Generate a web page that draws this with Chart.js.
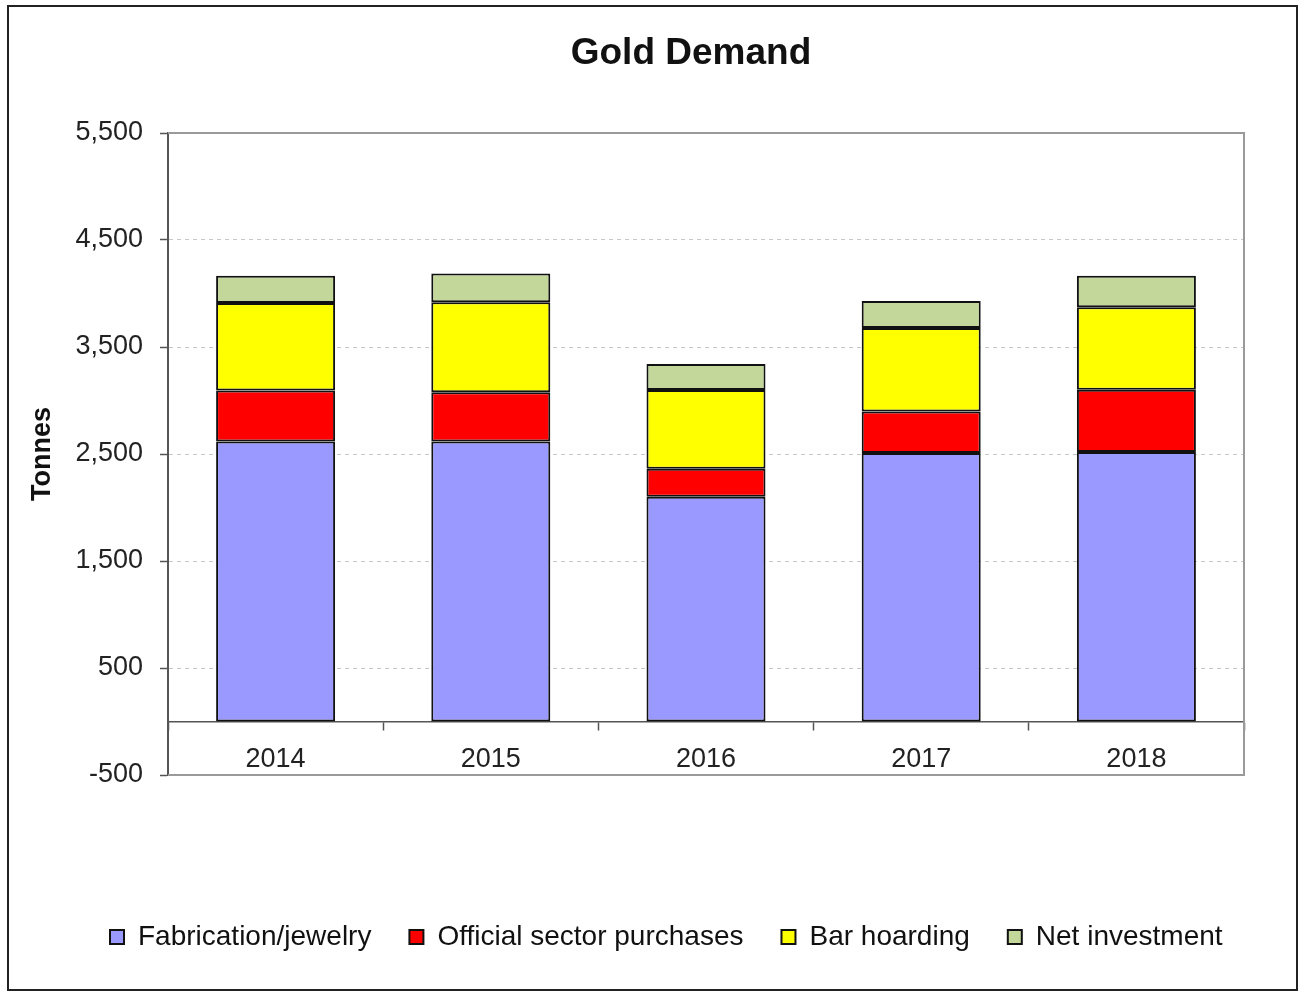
<!DOCTYPE html>
<html>
<head>
<meta charset="utf-8">
<title>Gold Demand</title>
<script src="https://cdn.jsdelivr.net/npm/chart.js@4/dist/chart.umd.min.js"></script>
<style>
  html, body { margin: 0; padding: 0; background: #fff; }
  canvas { display: block; }
</style>
</head>
<body>
<canvas id="goldChart" width="1301" height="993"></canvas>
<script>
// values (tonnes)
const years = ['2014', '2015', '2016', '2017', '2018'];
const fabrication = [2617, 2617, 2100, 2509, 2518];
const official = [477, 459, 262, 389, 583];
const barHoarding = [818, 842, 736, 780, 770];
const netInvestment = [255, 268, 243, 253, 296];

const yTicks = { min: -500, max: 5500, step: 1000 };

Chart.defaults.font.family = "'Liberation Sans', Arial, sans-serif";
Chart.defaults.color = '#111';

// white background, plot frame and outer border
const framePlugin = {
  id: 'frame',
  beforeDraw(chart) {
    const ctx = chart.ctx;
    ctx.save();
    ctx.fillStyle = '#fff';
    ctx.fillRect(0, 0, chart.width, chart.height);
    ctx.restore();
  },
  beforeDatasetsDraw(chart) {
    const { ctx, chartArea: a } = chart;
    ctx.save();
    ctx.strokeStyle = '#9a9a9a';
    ctx.lineWidth = 2;
    ctx.beginPath();
    ctx.moveTo(a.left, a.top);
    ctx.lineTo(a.right, a.top);
    ctx.lineTo(a.right, a.bottom);
    ctx.lineTo(a.left, a.bottom);
    ctx.stroke();
    ctx.restore();
  },
  afterDraw(chart) {
    const ctx = chart.ctx;
    ctx.save();
    ctx.strokeStyle = '#222';
    ctx.lineWidth = 2;
    ctx.strokeRect(8, 6, 1289, 984);
    ctx.restore();
  }
};

const seg = (label, data, color) => ({
  label,
  data,
  backgroundColor: color,
  borderColor: '#111',
  borderWidth: 2,
  borderSkipped: false
});

new Chart(document.getElementById('goldChart'), {
  type: 'bar',
  data: {
    labels: years,
    datasets: [
      seg('Fabrication/jewelry', fabrication, '#9999ff'),
      seg('Official sector purchases', official, '#ff0000'),
      seg('Bar hoarding', barHoarding, '#ffff00'),
      seg('Net investment', netInvestment, '#c4d79b')
    ]
  },
  plugins: [framePlugin],
  options: {
    responsive: false,
    devicePixelRatio: 1,
    animation: false,
    layout: { padding: { left: 72, right: -9, top: 0, bottom: 32 } },
    datasets: { bar: { categoryPercentage: 1, barPercentage: 0.553 } },
    plugins: {
      title: {
        display: true,
        text: 'Gold Demand',
        color: '#111',
        font: { size: 37, weight: 'bold' },
        padding: { top: 31.8, bottom: 56.8 }
      },
      legend: {
        position: 'bottom',
        align: 'start',
        labels: {
          boxWidth: 14,
          boxHeight: 14,
          padding: 38,
          color: '#111',
          font: { size: 28 }
        }
      },
      tooltip: { enabled: false }
    },
    scales: {
      x: {
        stacked: true,
        position: { y: 0 },
        grid: { drawOnChartArea: false, drawTicks: true, tickLength: 8, tickColor: '#555', tickWidth: 1.5 },
        border: { color: '#555', width: 1.5 },
        ticks: { color: '#222', padding: 14, font: { size: 27 } }
      },
      xPad: {
        type: 'category',
        position: 'bottom',
        grid: { display: false },
        border: { display: false },
        ticks: { display: false },
        afterFit: s => { s.height = 110; }
      },
      y: {
        stacked: true,
        min: yTicks.min,
        max: yTicks.max,
        afterFit: s => { s.width = 96; },
        ticks: {
          stepSize: yTicks.step,
          color: '#222',
          padding: 17,
          font: { size: 27 },
          callback: v => v.toLocaleString('en-US')
        },
        grid: {
          color: c => (c.tick && (c.tick.value === yTicks.max || c.tick.value === yTicks.min)) ? 'rgba(0,0,0,0)' : '#c8c8c8',
          lineWidth: 1,
          tickLength: 8,
          tickColor: '#555',
          tickWidth: 1.5
        },
        border: { color: '#555', width: 2, dash: [4, 4] },
        title: {
          display: true,
          text: 'Tonnes',
          color: '#111',
          font: { size: 27, weight: 'bold' },
          padding: { top: -45.2, bottom: 0 }
        }
      },
      yPad: {
        type: 'linear',
        position: 'right',
        grid: { display: false },
        border: { display: false },
        ticks: { display: false },
        afterFit: s => { s.width = 66; }
      }
    }
  }
});
</script>
</body>
</html>
